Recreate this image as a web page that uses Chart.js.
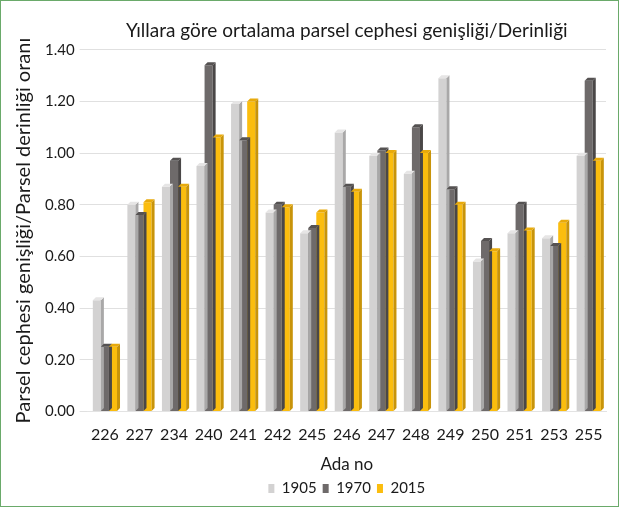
<!DOCTYPE html>
<html>
<head>
<meta charset="utf-8">
<script src="https://cdn.jsdelivr.net/npm/chart.js@4.4.1/dist/chart.umd.min.js"></script>
<style>
  html, body { margin: 0; padding: 0; background: #fff; }
  #wrap { position: relative; width: 617px; height: 505px; border: 1px solid #6aaa6a; }
  canvas { display: block; }
</style>
</head>
<body>
<div id="wrap"><canvas id="chart" width="617" height="505"></canvas></div>
<script>
const categories = ['226', '227', '234', '240', '241', '242', '245', '246', '247', '248', '249', '250', '251', '253', '255'];
const years = ['1905', '1970', '2015'];
const values1905 = [0.43, 0.80, 0.87, 0.95, 1.19, 0.77, 0.69, 1.08, 0.99, 0.92, 1.29, 0.58, 0.69, 0.67, 0.99];
const values1970 = [0.25, 0.76, 0.97, 1.34, 1.05, 0.80, 0.71, 0.87, 1.01, 1.10, 0.86, 0.66, 0.80, 0.64, 1.28];
const values2015 = [0.25, 0.81, 0.87, 1.06, 1.20, 0.79, 0.77, 0.85, 1.00, 1.00, 0.80, 0.62, 0.70, 0.73, 0.97];
const yTicks = [0, 0.2, 0.4, 0.6, 0.8, 1.0, 1.2, 1.4];

const colors = ['#d3d2d2', '#6e6a6a', '#fbbd0e'];
const sideColors = ['#a9a8a8', '#4a4747', '#c8940a'];
const topColors = ['#e6e5e5', '#555252', '#e8aa0b'];

// small depth faces so the bars look like the 3D columns
const depth3d = {
  id: 'depth3d',
  afterDatasetsDraw(chart) {
    const ctx = chart.ctx;
    const d = 3;
    chart.data.datasets.forEach((ds, i) => {
      chart.getDatasetMeta(i).data.forEach(bar => {
        const p = bar.getProps(['x', 'y', 'base', 'width'], true);
        const r = p.x + p.width / 2, l = p.x - p.width / 2;
        ctx.save();
        ctx.fillStyle = sideColors[i];
        ctx.beginPath();
        ctx.moveTo(r, p.y);
        ctx.lineTo(r + d, p.y - d);
        ctx.lineTo(r + d, p.base - d);
        ctx.lineTo(r, p.base);
        ctx.closePath();
        ctx.fill();
        ctx.fillStyle = topColors[i];
        ctx.beginPath();
        ctx.moveTo(l, p.y);
        ctx.lineTo(l + d, p.y - d);
        ctx.lineTo(r + d, p.y - d);
        ctx.lineTo(r, p.y);
        ctx.closePath();
        ctx.fill();
        ctx.restore();
      });
    });
  }
};

const ctx = document.getElementById('chart');
new Chart(ctx, {
  type: 'bar',
  data: {
    labels: categories,
    datasets: [
      { label: years[0], data: values1905, backgroundColor: colors[0] },
      { label: years[1], data: values1970, backgroundColor: colors[1] },
      { label: years[2], data: values2015, backgroundColor: colors[2] }
    ]
  },
  options: {
    responsive: false,
    animation: false,
    layout: { padding: { top: 18, right: 12, left: 11, bottom: 0 } },
    datasets: { bar: { categoryPercentage: 0.7, barPercentage: 1.0 } },
    plugins: {
      title: {
        display: true,
        fullSize: false,
        text: 'Yıllara göre ortalama parsel cephesi genişliği/Derinliği',
        color: '#1a1a1a',
        font: { family: 'Lato', size: 19, weight: 'normal' },
        padding: { top: 0, bottom: 8 }
      },
      legend: {
        position: 'bottom',
        fullSize: false,
        labels: {
          color: '#1a1a1a',
          font: { family: 'Lato', size: 15 },
          boxWidth: 6,
          boxHeight: 9,
          padding: 6
        }
      },
      tooltip: { enabled: false }
    },
    scales: {
      x: {
        grid: { display: false },
        border: { color: '#e3e3e3' },
        ticks: {
          color: '#1a1a1a', font: { family: 'Lato', size: 16 }, padding: 6,
          autoSkip: false, minRotation: 0, maxRotation: 0
        },
        title: { display: true, text: 'Ada no', color: '#1a1a1a', font: { family: 'Lato', size: 17 }, padding: { top: 4, bottom: 0 } }
      },
      y: {
        min: 0,
        max: 1.4,
        afterBuildTicks: axis => { axis.ticks = yTicks.map(v => ({ value: v })); },
        grid: { color: '#e0e0e0' },
        border: { display: false },
        ticks: {
          color: '#1a1a1a',
          font: { family: 'Lato', size: 15 },
          padding: 5,
          callback: v => v.toFixed(2)
        },
        title: {
          display: true,
          text: 'Parsel cephesi genişliği/Parsel derinliği oranı',
          color: '#1a1a1a',
          font: { family: 'Lato', size: 20 },
          padding: { top: 0, bottom: 4 }
        }
      }
    }
  },
  plugins: [depth3d]
});
</script>
</body>
</html>
